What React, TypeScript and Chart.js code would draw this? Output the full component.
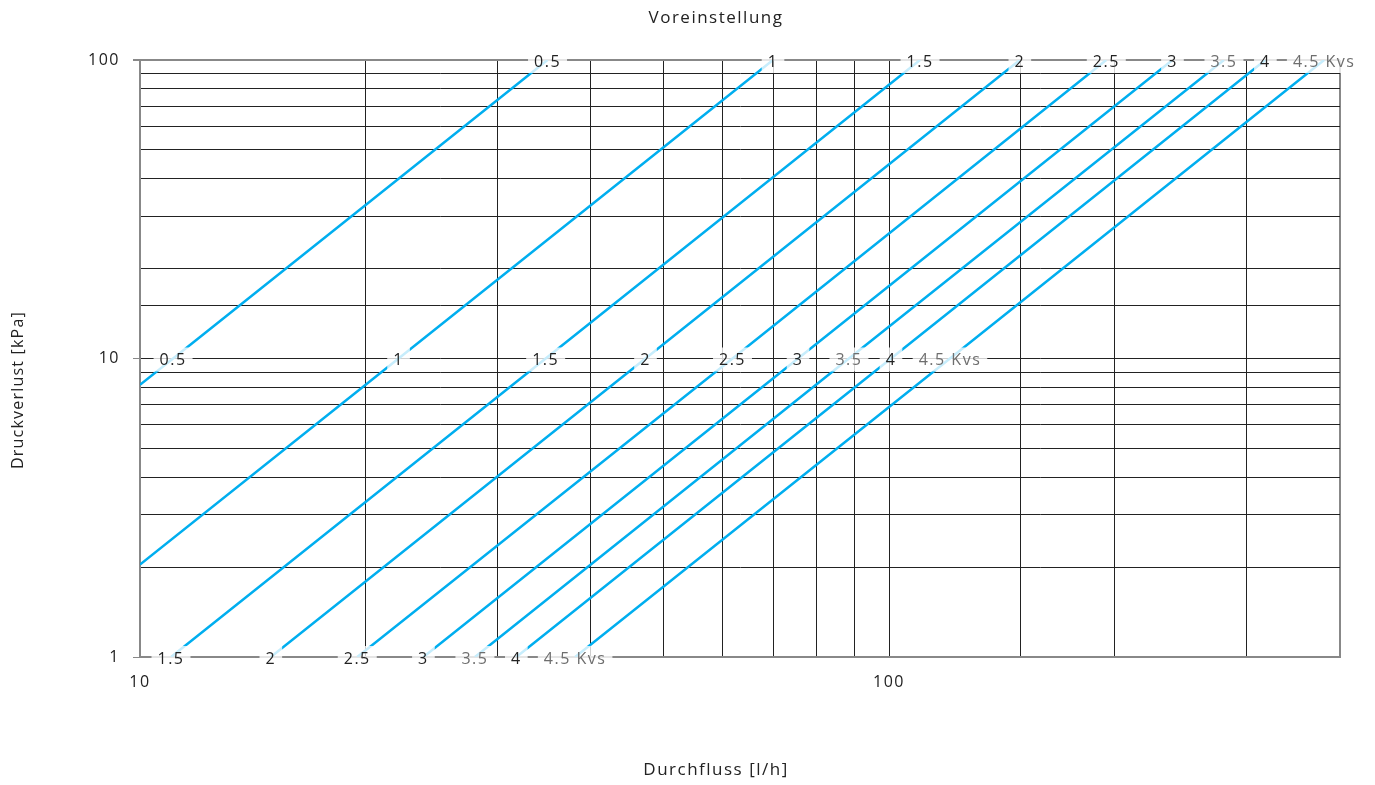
import React, { useEffect, useRef } from 'react';
import { Chart, registerables } from 'chart.js';

Chart.register(...registerables);

// Presets (Voreinstellung)
const presets = ['0.5', '1', '1.5', '2', '2.5', '3', '3.5', '4', '4.5'];
// Flow [l/h] / pressure [kPa] where each preset line enters the chart (left edge or 1 kPa)
const startFlow = [10, 10, 11.0, 14.95, 19.5, 23.9, 28.0, 31.8, 38.1];
const startPressure = [8.16, 2.04, 1, 1, 1, 1, 1, 1, 1];
// Flow [l/h] at 1 kPa, 10 kPa and 100 kPa
const flowAt1kPa = [null, null, 11.0, 14.95, 19.5, 23.9, 28.0, 31.8, 38.1];
const flowAt10kPa = [11.07, 22.14, 34.8, 47.3, 61.8, 75.6, 88.4, 100.6, 120.6];
const flowAt100kPa = [35.0, 70.0, 110, 149.5, 195, 239, 280, 318, 381];
const pressureLevels = [1, 10, 100];
const xTickLabels = [10, 100];
const yTickLabels = [1, 10, 100];
const unitSuffix = ' Kvs';

const chartTitle = 'Voreinstellung';
const xTitle = 'Durchfluss [l/h]';
const yTitle = 'Druckverlust [kPa]';

const FONT = '"Open Sans", "Noto Sans", sans-serif';
const LETTER_SPACING = '1.5px';

const spacingPlugin = {
  id: 'spacing',
  beforeUpdate(chart: any) {
    chart.ctx.letterSpacing = LETTER_SPACING;
  },
  beforeLayout(chart: any) {
    chart.ctx.letterSpacing = LETTER_SPACING;
  },
  beforeDraw(chart: any) {
    chart.ctx.letterSpacing = LETTER_SPACING;
  },
};

const titlesPlugin = {
  id: 'titles',
  afterDraw(chart: any) {
    const { ctx } = chart;
    ctx.save();
    ctx.fillStyle = '#222';
    ctx.textAlign = 'center';
    ctx.textBaseline = 'middle';
    ctx.letterSpacing = '1.5px';
    ctx.font = `17px ${FONT}`;
    ctx.fillText(chartTitle, 716, 18);
    ctx.fillText(xTitle, 716, 770);
    ctx.letterSpacing = '1.2px';
    ctx.font = `16px ${FONT}`;
    ctx.translate(18, 390);
    ctx.rotate(-Math.PI / 2);
    ctx.fillText(yTitle, 0, 0);
    ctx.restore();
  },
};

const labelPlugin = {
  id: 'presetLabels',
  afterDatasetsDraw(chart: any) {
    const { ctx, scales } = chart;
    const xs = scales.x;
    const ys = scales.y;
    ctx.save();
    ctx.letterSpacing = LETTER_SPACING;
    ctx.font = `16px ${FONT}`;
    ctx.textAlign = 'center';
    ctx.textBaseline = 'middle';
    const flows = [flowAt1kPa, flowAt10kPa, flowAt100kPa];
    pressureLevels.forEach((p, li) => {
      presets.forEach((name, i) => {
        const f = flows[li][i];
        if (f == null) return;
        const text = i === presets.length - 1 ? name + unitSuffix : name;
        const px = xs.getPixelForValue(f);
        const py = ys.getPixelForValue(p);
        const w = ctx.measureText(text).width;
        ctx.fillStyle = 'rgba(255,255,255,0.78)';
        ctx.fillRect(px - w / 2 - 6, py - 11, w + 12, 24);
        ctx.fillStyle = i === 6 || i === 8 ? '#6e6e6e' : '#222';
        ctx.fillText(text, px, py + 2);
      });
    });
    ctx.restore();
  },
};

export default function App() {
  const ref = useRef<HTMLCanvasElement | null>(null);

  useEffect(() => {
    if (!ref.current) return;
    const datasets = presets.map((name, i) => ({
      label: name,
      data: [
        { x: startFlow[i], y: startPressure[i] },
        { x: flowAt10kPa[i], y: 10 },
        { x: flowAt100kPa[i], y: 100 },
      ],
      borderColor: '#00AEEF',
      backgroundColor: '#00AEEF',
      borderWidth: 2.5,
      pointRadius: 0,
      tension: 0,
      fill: false,
    }));

    const isMajorY = (v: number) => yTickLabels.includes(v);

    const chart = new Chart(ref.current, {
      type: 'line',
      data: { datasets },
      plugins: [spacingPlugin, labelPlugin, titlesPlugin],
      options: {
        animation: false,
        responsive: false,
        maintainAspectRatio: false,
        layout: { padding: { left: 0, right: 35, top: 60, bottom: 0 } },
        plugins: {
          legend: { display: false },
          tooltip: { enabled: false },
          title: { display: false },
        },
        scales: {
          x: {
            type: 'logarithmic',
            position: 'bottom',
            min: 10,
            max: 400,
            afterFit: (s: any) => {
              s.height = 128;
            },
            border: { color: '#888', width: 2 },
            grid: {
              drawTicks: false,
              color: (c: any) => (c.tick && c.tick.value === 400 ? '#888' : '#222'),
              lineWidth: (c: any) => (c.tick && c.tick.value === 400 ? 2 : 1),
            },
            ticks: {
              autoSkip: false,
              maxRotation: 0,
              padding: 16,
              color: '#222',
              font: { family: FONT, size: 16 },
              callback: (v: any) => (xTickLabels.includes(Number(v)) ? String(v) : ''),
            },
            title: { display: false },
          },
          y: {
            type: 'logarithmic',
            min: 1,
            max: 100,
            afterFit: (s: any) => {
              s.width = 140;
            },
            border: { color: '#888', width: 2 },
            grid: {
              tickLength: 7,
              color: (c: any) => (c.tick && c.tick.value === 100 ? '#888' : '#222'),
              lineWidth: (c: any) => (c.tick && c.tick.value === 100 ? 2 : 1),
              tickColor: (c: any) => (c.tick && isMajorY(c.tick.value) ? '#888' : 'rgba(0,0,0,0)'),
            },
            ticks: {
              autoSkip: false,
              padding: 13,
              color: '#222',
              font: { family: FONT, size: 16 },
              callback: (v: any) => (isMajorY(Number(v)) ? String(v) : ''),
            },
            title: { display: false },
          },
        },
      },
    });
    return () => chart.destroy();
  }, []);

  return (
    <div style={{ position: 'absolute', left: 0, top: 0, width: 1375, height: 785 }}>
      <canvas ref={ref} width={1375} height={785} style={{ width: 1375, height: 785 }} />
    </div>
  );
}
